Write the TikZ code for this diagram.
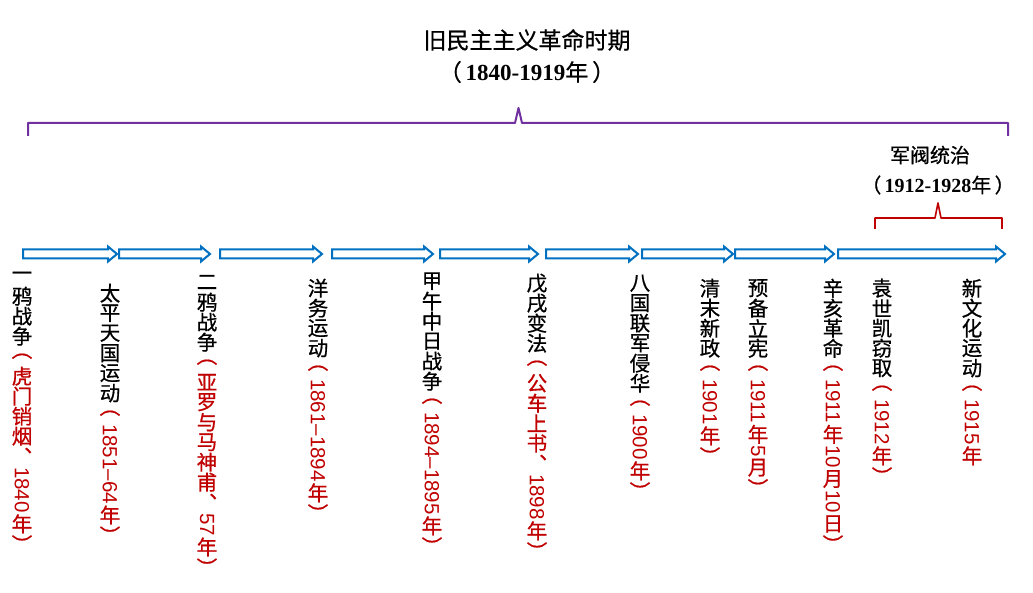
\documentclass[tikz,border=0pt]{standalone}
\usepackage{fontspec}
\setmainfont{Noto Sans CJK SC}[FakeBold=0.7]
\newfontfamily\digitfont{Liberation Sans}
\newfontfamily\datefont{Liberation Serif}
\usepackage{graphicx}
\usepackage{xcolor}
\usepackage{tikz}
\usetikzlibrary{positioning}
\definecolor{arrowblue}{RGB}{0,112,192}
\definecolor{bracepurple}{RGB}{112,48,160}
\definecolor{datered}{RGB}{192,0,0}
% 竖排：汉字一格一字，数字旋转
\newcommand\vc[1]{\hbox to 1.05em{\hss\vbox to 20pt{\vss\hbox{#1}\vss}\hss}}
\newcommand\vr[1]{\kern1pt\hbox to 1.05em{\hss\rotatebox{-90}{\digitfont #1}\hss}\kern1pt}
\def\vs#1{\vsloop#1\relax}
\def\vsloop#1{\ifx#1\relax\else\vc{#1}\expandafter\vsloop\fi}
\newcommand\evtcol[2]{\vbox{\offinterlineskip\vs{#1}\color{datered}#2}}
\tikzset{
  blockarr/.style={arrowblue,line width=2pt,line join=miter},
  bigbrace/.style={bracepurple,line width=2pt,line join=round},
  smallbrace/.style={datered,line width=1.6pt,line join=round},
  evt/.style={anchor=north,inner sep=0pt,font=\fontsize{20.5pt}{20pt}\selectfont},
  headln/.style={inner sep=0pt,font=\fontsize{23pt}{23pt}\selectfont},
  subln/.style={inner sep=0pt,font=\fontsize{20pt}{20pt}\selectfont},
}

\begin{document}
\begin{tikzpicture}[x=1pt,y=-1pt]
        \useasboundingbox (0,0) rectangle (1033,593);
        % 总时期
        \node[headln] (era) at (527,40) {旧民主主义革命时期};
        \node[headln] (eradate) at (527,72) {（\,{\datefont\bfseries 1840-1919}年\,）};
        \draw[bigbrace] (28,136) -- (28,123) -- (515,123) -- (518.5,108)
              -- (522,123) -- (1008,123) -- (1008,136);
        % 军阀统治
        \node[subln] (warlord) at (930,155) {军阀统治};
        \node[subln] (warlorddate) at (938,185) {（\,{\datefont\bfseries 1912-1928}年\,）};
        \draw[smallbrace] (875,229) -- (875,218) -- (935,218) -- (938,203)
              -- (941,218) -- (1002,218) -- (1002,229);
        % 时间轴箭头
        \foreach \a/\b in {23/117,119/210,220/322,332/433,440/538,546/638,642/733,735/834,838/1005}
          \draw[blockarr] (\a,249.5) -- ({\b-9},249.5) -- ({\b-9},246.5) -- (\b,254)
                -- ({\b-9},261.5) -- ({\b-9},258.5) -- (\a,258.5) -- cycle;
        % 事件
        \node[evt] (e1) at (22,266) {\evtcol{一鸦战争}{\vs{︵虎门销烟︑}\vr{1840}\vs{年︶}}};
        \node[evt] (e2) at (110,283) {\evtcol{太平天国运动}{\vs{︵}\vr{1851–64}\vs{年︶}}};
        \node[evt] (e3) at (207,272) {\evtcol{二鸦战争}{\vs{︵亚罗与马神甫︑}\vr{57}\vs{年︶}}};
        \node[evt] (e4) at (318,278) {\evtcol{洋务运动}{\vs{︵}\vr{1861–1894}\vs{年︶}}};
        \node[evt] (e5) at (432,271) {\evtcol{甲午中日战争}{\vs{︵}\vr{1894–1895}\vs{年︶}}};
        \node[evt] (e6) at (537,273) {\evtcol{戊戌变法}{\vs{︵公车上书︑}\vr{1898}\vs{年︶}}};
        \node[evt] (e7) at (640,273) {\evtcol{八国联军侵华}{\vs{︵}\vr{1900}\vs{年︶}}};
        \node[evt] (e8) at (710,278) {\evtcol{清末新政}{\vs{︵}\vr{1901}\vs{年︶}}};
        \node[evt] (e9) at (758,278) {\evtcol{预备立宪}{\vs{︵}\vr{1911}\vs{年}\vr{5}\vs{月︶}}};
        \node[evt] (e10) at (833,278) {\evtcol{辛亥革命}{\vs{︵}\vr{1911}\vs{年}\vr{10}\vs{月}\vr{10}\vs{日︶}}};
        \node[evt] (e11) at (882,278) {\evtcol{袁世凯窃取}{\vs{︵}\vr{1912}\vs{年︶}}};
        \node[evt] (e12) at (972,278) {\evtcol{新文化运动}{\vs{︵}\vr{1915}\vs{年}}};
      \end{tikzpicture}
\end{document}
